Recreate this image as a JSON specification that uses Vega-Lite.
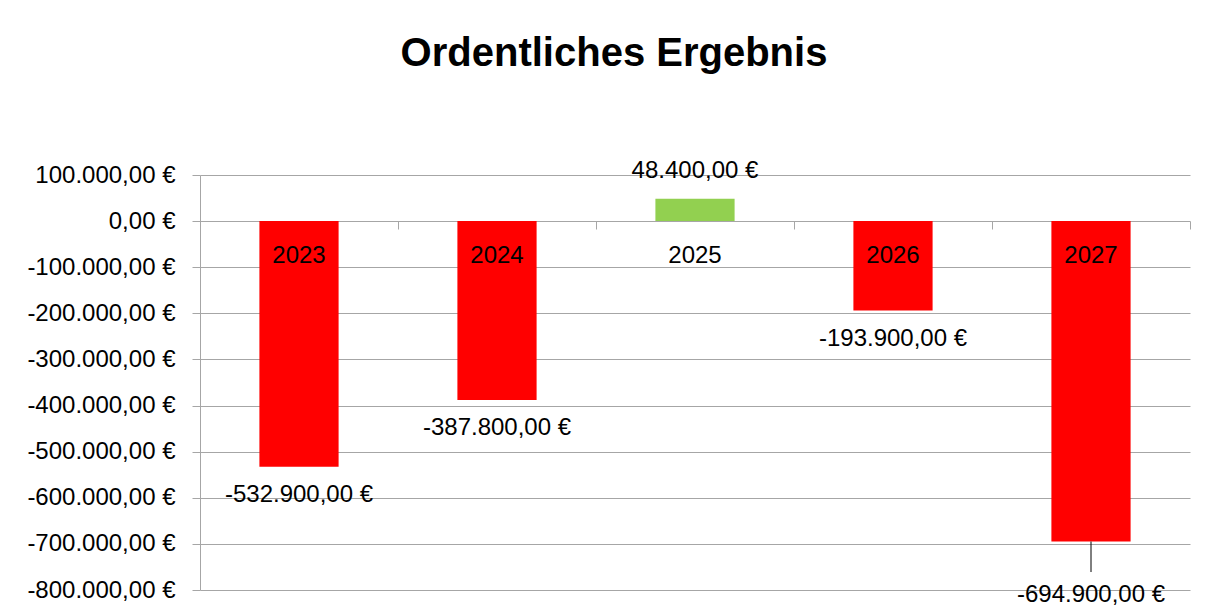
{
  "$schema": "https://vega.github.io/schema/vega-lite/v6.json",
  "width": 990,
  "height": 415,
  "autosize": {"type": "none"},
  "padding": {"left": 200, "top": 175, "right": 25, "bottom": 26},
  "background": "white",
  "title": {
    "text": "Ordentliches Ergebnis",
    "fontSize": 40,
    "fontWeight": "bold",
    "font": "Liberation Sans",
    "color": "black",
    "anchor": "middle",
    "frame": "group",
    "dx": -81,
    "offset": 53,
    "baseline": "alphabetic"
  },
  "config": {
    "font": "Liberation Sans",
    "locale": {
      "number": {
        "decimal": ",",
        "thousands": ".",
        "grouping": [3],
        "currency": ["", " €"],
        "minus": "-"
      }
    },
    "view": {"stroke": null},
    "axis": {
      "labelFont": "Liberation Sans",
      "labelColor": "black",
      "labelFontSize": 24,
      "gridColor": "#a6a6a6",
      "domainColor": "#a6a6a6",
      "tickColor": "#a6a6a6",
      "gridOpacity": 1
    },
    "text": {"font": "Liberation Sans", "fontSize": 24, "color": "black"}
  },
  "data": {
    "values": [
      {"year": "2023", "value": -532900},
      {"year": "2024", "value": -387800},
      {"year": "2025", "value": 48400},
      {"year": "2026", "value": -193900},
      {"year": "2027", "value": -694900}
    ]
  },
  "encoding": {
    "x": {
      "field": "year",
      "type": "nominal",
      "sort": null,
      "scale": {"paddingInner": 0, "paddingOuter": 0},
      "axis": {
        "title": null,
        "labels": false,
        "domain": false,
        "grid": false,
        "tickBand": "extent",
        "tickSize": 8,
        "offset": -369
      }
    }
  },
  "layer": [
    {
      "mark": {"type": "bar", "width": {"band": 0.4}},
      "encoding": {
        "y": {
          "field": "value",
          "type": "quantitative",
          "scale": {"domain": [-800000, 100000], "nice": false},
          "axis": {
            "title": null,
            "values": [-800000, -700000, -600000, -500000, -400000, -300000, -200000, -100000, 0, 100000],
            "format": "$,.2f",
            "grid": true,
            "domain": true,
            "tickSize": 8,
            "labelPadding": 17
          }
        },
        "color": {
          "condition": {"test": "datum.value > 0", "value": "#92D050"},
          "value": "#FF0000"
        }
      }
    },
    {
      "mark": {"type": "text", "baseline": "middle", "dy": 35},
      "encoding": {
        "y": {"datum": 0, "type": "quantitative"},
        "text": {"field": "year", "type": "nominal"}
      }
    },
    {
      "transform": [{"filter": "datum.value < 0 && datum.year != '2027'"}],
      "mark": {"type": "text", "baseline": "middle", "dy": 28},
      "encoding": {
        "y": {"field": "value", "type": "quantitative"},
        "text": {"field": "value", "type": "quantitative", "format": "$,.2f"}
      }
    },
    {
      "transform": [{"filter": "datum.value > 0"}],
      "mark": {"type": "text", "baseline": "middle", "dy": -28},
      "encoding": {
        "y": {"field": "value", "type": "quantitative"},
        "text": {"field": "value", "type": "quantitative", "format": "$,.2f"}
      }
    },
    {
      "transform": [{"filter": "datum.year == '2027'"}],
      "mark": {"type": "text", "baseline": "middle", "dy": 53},
      "encoding": {
        "y": {"field": "value", "type": "quantitative"},
        "text": {"field": "value", "type": "quantitative", "format": "$,.2f"}
      }
    },
    {
      "transform": [{"filter": "datum.year == '2027'"}],
      "mark": {"type": "rule", "color": "black", "strokeWidth": 1},
      "encoding": {
        "y": {"field": "value", "type": "quantitative"},
        "y2": {"datum": -761000}
      }
    }
  ]
}
